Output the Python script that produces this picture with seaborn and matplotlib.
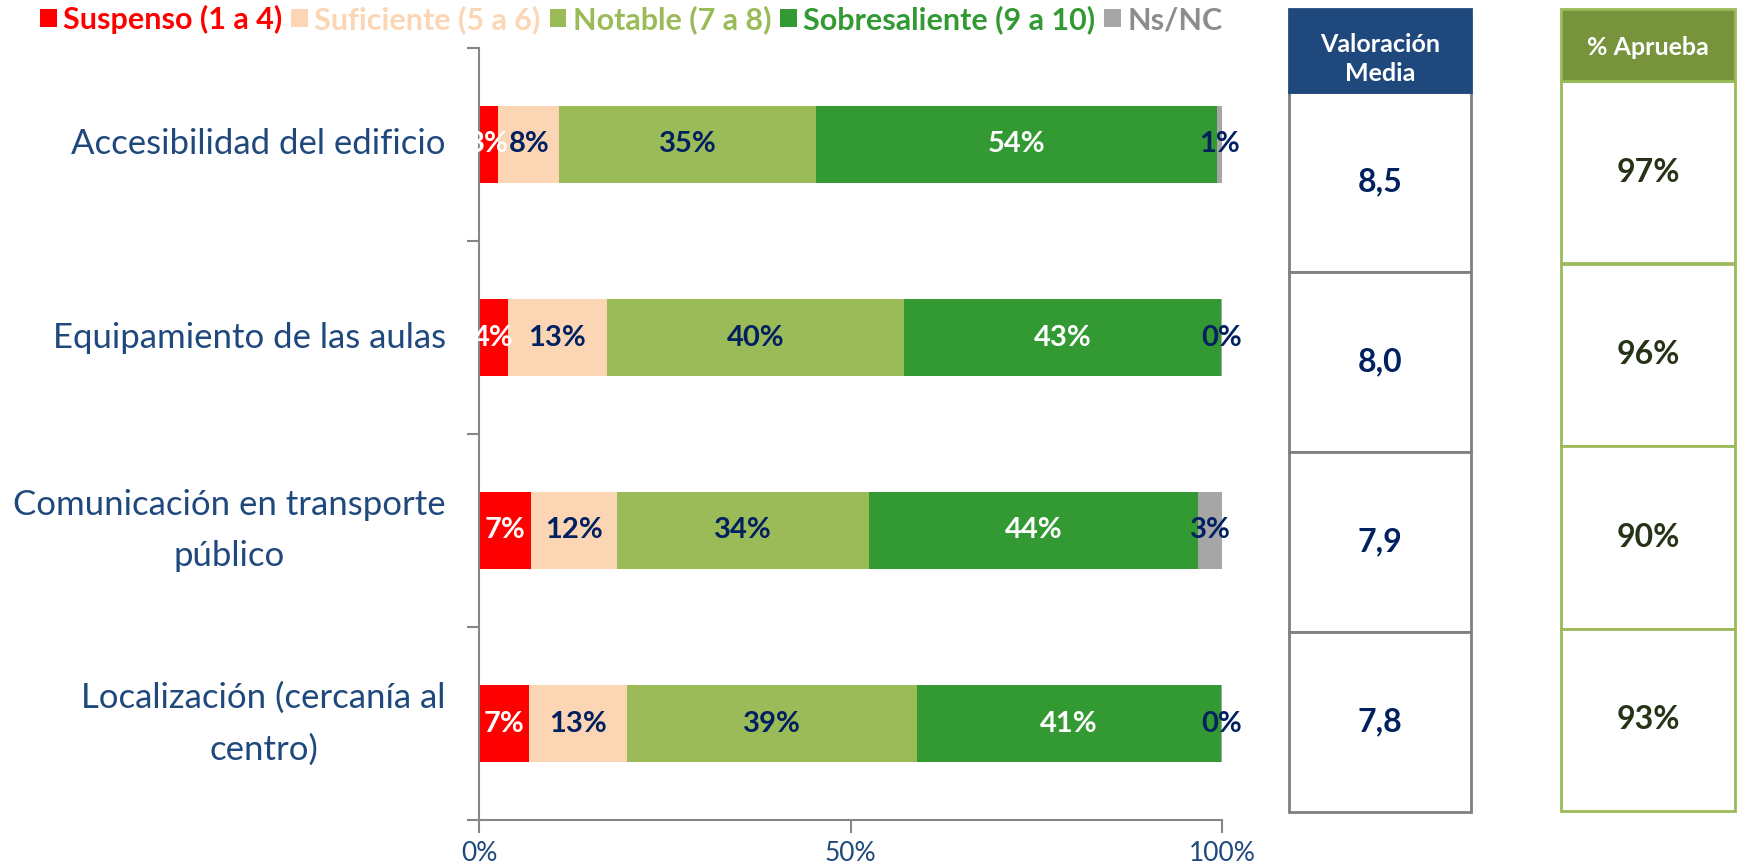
import matplotlib
matplotlib.use("Agg")
import matplotlib.pyplot as plt
from matplotlib.patches import Patch, Rectangle
import numpy as np
import seaborn as sns

# ---- data ----
categories = ["Accesibilidad del edificio", "Equipamiento de las aulas",
              "Comunicación en transporte público", "Localización (cercanía al centro)"]
category_labels = ["Accesibilidad del edificio", "Equipamiento de las aulas",
                   "Comunicación en transporte\npúblico", "Localización (cercanía al\ncentro)"]
series_names = ["Suspenso (1 a 4)", "Suficiente (5 a 6)", "Notable (7 a 8)",
                "Sobresaliente (9 a 10)", "Ns/NC"]
suspenso = [2.6, 3.9, 7.0, 6.7]
suficiente = [8.2, 13.3, 11.6, 13.2]
notable = [34.6, 40.0, 33.9, 39.0]
sobresaliente = [53.9, 42.6, 44.3, 40.9]
nsnc = [0.7, 0.2, 3.2, 0.2]
valoracion_media = ["8,5", "8,0", "7,9", "7,8"]
pct_aprueba = ["97%", "96%", "90%", "93%"]
x_ticks = [0, 50, 100]
x_tick_labels = ["0%", "50%", "100%"]

# ---- style ----
sns.set_style("white")
plt.rcParams["font.family"] = ["Lato", "DejaVu Sans"]

seg_colors = ["#FF0000", "#FCD5B5", "#9BBB59", "#339933", "#A6A6A6"]
legend_text_colors = ["#FF0000", "#FCD5B5", "#9BBB59", "#339933", "#8C8C8C"]
value_text_colors = ["white", "#002060", "#002060", "white", "#002060"]
axis_grey = "#868686"
label_blue = "#1F497D"

W, H = 1738, 865
fig = plt.figure(figsize=(W / 100, H / 100), dpi=100)
fig.patch.set_facecolor("white")


def frac_box(x0, y0, x1, y1):
    return [x0 / W, 1 - y1 / H, (x1 - x0) / W, (y1 - y0) / H]


ax = fig.add_axes(frac_box(479, 48, 1222, 820))

series = [suspenso, suficiente, notable, sobresaliente, nsnc]
cumulative = np.cumsum(np.array(series), axis=0)

# stacked bars: draw the cumulative totals from the outermost segment inwards
for i in range(len(series) - 1, -1, -1):
    sns.barplot(x=cumulative[i], y=categories, orient="h", color=seg_colors[i],
                saturation=1, width=0.4, linewidth=0, ax=ax)

for i, vals in enumerate(series):
    for j, v in enumerate(vals):
        center = cumulative[i][j] - v / 2
        ax.text(center, j, f"{v:.0f}%", ha="center", va="center",
                fontsize=21, fontweight="bold", color=value_text_colors[i])

ax.set_xlim(0, 100)
ax.set_ylim(len(categories) - 0.5, -0.5)
ax.set_xticks(x_ticks)
ax.set_xticklabels(x_tick_labels)
ax.set_xlabel("")
ax.set_ylabel("")

ax.set_yticks(np.arange(len(categories) + 1) - 0.5)
ax.set_yticklabels([])
ax.set_yticks(np.arange(len(categories)), minor=True)
ax.set_yticklabels(category_labels, minor=True)
for lbl in ax.get_yticklabels(minor=True):
    lbl.set_multialignment("center")
    lbl.set_linespacing(1.75)
    lbl.set_verticalalignment("center")

ax.tick_params(axis="y", which="major", left=True, length=9, width=1.5,
               color=axis_grey, direction="out")
ax.tick_params(axis="y", which="minor", left=True, length=0, pad=24,
               labelsize=25, labelcolor=label_blue)
ax.tick_params(axis="x", which="major", bottom=True, length=9, width=1.5,
               color=axis_grey, direction="out", pad=6, labelsize=19,
               labelcolor=label_blue)

for side in ["top", "right"]:
    ax.spines[side].set_visible(False)
for side in ["left", "bottom"]:
    ax.spines[side].set_color(axis_grey)
    ax.spines[side].set_linewidth(1.5)

# ---- legend ----
handles = [Patch(facecolor=c, edgecolor="none") for c in seg_colors]
fig.legend(handles, series_names, loc="upper left",
           bbox_to_anchor=(40 / W, 1 - 5 / H), ncol=5, frameon=False,
           borderpad=0, borderaxespad=0, handlelength=0.55, handleheight=0.55,
           handletextpad=0.2, columnspacing=0.3,
           prop={"weight": "bold", "size": 22}, labelcolor=legend_text_colors)


# ---- side tables ----
def draw_table(box, header, values, header_face, header_edge, cell_edge,
               value_color, header_px, header_text_pos):
    x0, y0, x1, y1 = box
    tax = fig.add_axes(frac_box(x0, y0, x1, y1))
    tax.set_xlim(0, 1)
    tax.set_ylim(0, 1)
    tax.axis("off")
    hfrac = header_px / (y1 - y0)
    row_h = (1 - hfrac) / len(values)
    for k, val in enumerate(values):
        top = 1 - hfrac - k * row_h
        tax.add_patch(Rectangle((0, top - row_h), 1, row_h, facecolor="white",
                                edgecolor=cell_edge, linewidth=2, clip_on=False))
        tax.text(0.5, top - row_h / 2, val, ha="center", va="center",
                 fontsize=23, fontweight="bold", color=value_color)
    tax.add_patch(Rectangle((0, 1 - hfrac), 1, hfrac, facecolor=header_face,
                            edgecolor=header_edge, linewidth=2, clip_on=False))
    tax.text(0.5, 1 - hfrac * (1 - header_text_pos), header, ha="center",
             va="center", fontsize=18, fontweight="bold", color="white",
             linespacing=1.3)


draw_table((1289, 9, 1471, 812), "Valoración\nMedia", valoracion_media,
           "#1F497D", "#1F497D", "#7F7F7F", "#002060", 83, 0.4)
draw_table((1561, 9, 1735, 811), "% Aprueba", pct_aprueba,
           "#77933C", "#9BBB59", "#9BBB59", "#263317", 72, 0.46)

fig.savefig("out.png", dpi=100, facecolor="white")
